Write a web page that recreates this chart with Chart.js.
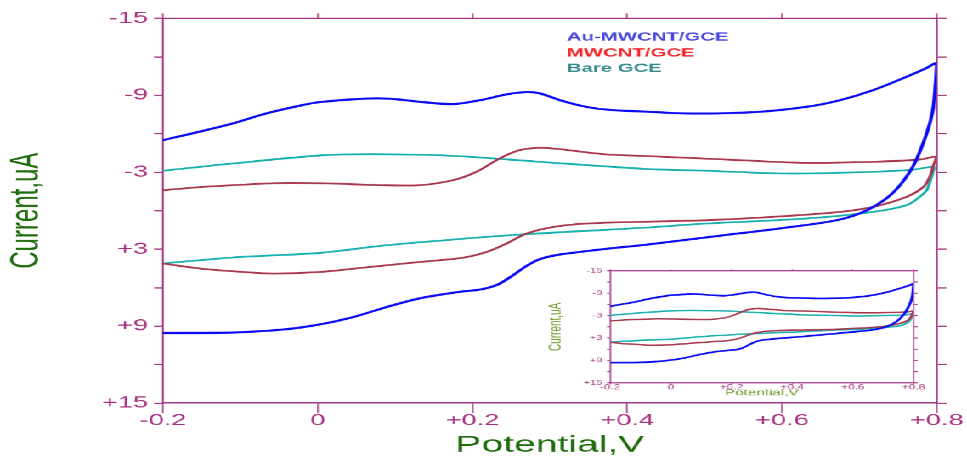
<!DOCTYPE html>
<html>
<head>
<meta charset="utf-8">
<script src="https://cdn.jsdelivr.net/npm/chart.js@4/dist/chart.umd.min.js"></script>
<style>
  html, body { margin: 0; padding: 0; background: #fff; overflow: hidden; }
  /* The drawing is laid out on a 569px-wide stage and widened to 967px,
     which gives the wide-set lettering of the instrument printout. */
  #stage { position: absolute; left: 0; top: 0; width: 569px; height: 457px;
           transform: scaleX(1.6995); transform-origin: 0 0; }
  #mainBox { position: absolute; left: 0; top: 0; width: 569px; height: 457px; }
  #insetBox { position: absolute; left: 320.7px; top: 262px; width: 226.5px; height: 138px; }
</style>
</head>
<body>
<div id="stage">
  <div id="mainBox"><canvas id="main"></canvas></div>
  <div id="insetBox"><canvas id="inset"></canvas></div>
</div>
<script>
// Cyclic voltammograms: potential (V) vs current (uA), forward and reverse scans.
const seriesNames = ['Au-MWCNT/GCE', 'MWCNT/GCE', 'Bare GCE'];

// Au-MWCNT/GCE
const auFwdE = [-0.2, -0.15, -0.11, -0.066, -0.02, 0.003, 0.058, 0.093, 0.132, 0.175, 0.21, 0.244, 0.27, 0.287, 0.313, 0.347, 0.382, 0.429, 0.472, 0.52, 0.572, 0.632, 0.675, 0.718, 0.761, 0.785, 0.8];
const auFwdI = [-5.5, -6.2, -6.8, -7.59, -8.23, -8.47, -8.73, -8.73, -8.49, -8.31, -8.62, -9.07, -9.25, -9.15, -8.62, -8.1, -7.84, -7.71, -7.59, -7.59, -7.71, -8.1, -8.62, -9.4, -10.44, -11.07, -11.49];
const auRevE = [0.798, 0.795, 0.787, 0.769, 0.743, 0.71, 0.671, 0.601, 0.52, 0.429, 0.37, 0.33, 0.305, 0.287, 0.27, 0.252, 0.233, 0.21, 0.184, 0.132, 0.089, 0.046, 0.003, -0.045, -0.11, -0.2];
const auRevI = [-9.6, -7.84, -6.02, -3.42, -1.37, -0.04, 0.74, 1.35, 1.95, 2.62, 3.0, 3.28, 3.5, 3.78, 4.3, 5.05, 5.75, 6.15, 6.32, 6.83, 7.51, 8.29, 8.86, 9.27, 9.5, 9.54];

// MWCNT/GCE
const mwFwdE = [-0.2, -0.15, -0.11, -0.04, 0.016, 0.08, 0.132, 0.175, 0.205, 0.235, 0.261, 0.287, 0.313, 0.369, 0.429, 0.546, 0.632, 0.718, 0.78, 0.799];
const mwFwdI = [-1.6, -1.85, -1.99, -2.17, -2.12, -1.99, -1.99, -2.38, -3.03, -4.07, -4.72, -4.9, -4.8, -4.41, -4.25, -3.94, -3.73, -3.81, -4.0, -4.2];
const mwRevE = [0.795, 0.791, 0.783, 0.761, 0.718, 0.675, 0.588, 0.503, 0.417, 0.348, 0.305, 0.27, 0.244, 0.218, 0.188, 0.132, 0.068, 0.003, -0.057, -0.096, -0.152, -0.2];
const mwRevI = [-3.4, -2.64, -1.86, -1.08, -0.3, 0.09, 0.48, 0.74, 0.87, 1.0, 1.26, 1.78, 2.56, 3.22, 3.66, 4.0, 4.39, 4.78, 4.9, 4.78, 4.51, 4.12];

// Bare GCE
const bareFwdE = [-0.2, -0.11, 0.003, 0.068, 0.154, 0.197, 0.244, 0.305, 0.369, 0.429, 0.503, 0.606, 0.718, 0.77, 0.796];
const bareFwdI = [-3.11, -3.68, -4.31, -4.41, -4.33, -4.2, -4.0, -3.73, -3.47, -3.24, -3.11, -2.9, -3.03, -3.2, -3.42];
const bareRevE = [0.795, 0.791, 0.787, 0.778, 0.761, 0.718, 0.632, 0.503, 0.417, 0.27, 0.175, 0.089, 0.003, -0.11, -0.2];
const bareRevI = [-3.0, -2.2, -1.6, -1.08, -0.43, 0.09, 0.61, 1.0, 1.34, 1.83, 2.25, 2.69, 3.29, 3.65, 4.12];

// Axis ticks
const potentialTicks = [-0.2, 0, 0.2, 0.4, 0.6, 0.8];
const currentTicks = [-15, -9, -3, 3, 9, 15];

// Styling
const SX = 967 / 569;                  // horizontal widening of the stage
const FONT = "'Liberation Sans', Arial, sans-serif";
const axisColor = '#a2307e';
const tickColor = '#a8307f';
const titleGreen = '#1f6b0d';
const insetTitleGreen = '#6a9a26';
const lineColors = ['#0a0af5', '#a8384e', '#19b0b0'];
const legendColors = ['#4646dc', '#f22424', '#3a8a8c'];

Chart.defaults.font.family = FONT;
Chart.defaults.animation = false;

function loop(fE, fI, rE, rI) {
  const pts = fE.map((e, i) => ({ x: e, y: fI[i] }));
  return pts.concat(rE.map((e, i) => ({ x: e, y: rI[i] })));
}
const loops = [
  loop(auFwdE, auFwdI, auRevE, auRevI),
  loop(mwFwdE, mwFwdI, mwRevE, mwRevI),
  loop(bareFwdE, bareFwdI, bareRevE, bareRevI)
];

function datasets(widths) {
  return loops.map((pts, i) => ({
    label: seriesNames[i],
    data: pts,
    showLine: true,
    borderColor: lineColors[i],
    borderWidth: widths[i],
    pointRadius: 0,
    tension: 0.3,
    fill: false
  }));
}

function fmtE(v) {
  if (Math.abs(v) < 1e-9) return '0';
  return (v > 0 ? '+' : '-') + Math.abs(v).toFixed(1);
}
function fmtI(v) {
  if (!currentTicks.includes(v)) return '';
  return v > 0 ? '+' + v : String(v);
}

// Text-only legend in the upper part of the plot
const cvLegend = {
  id: 'cvLegend',
  afterDraw(chart, args, opts) {
    const ctx = chart.ctx;
    ctx.save();
    ctx.font = 'bold ' + opts.size + 'px ' + FONT;
    ctx.textAlign = 'left';
    ctx.textBaseline = 'alphabetic';
    seriesNames.forEach((name, i) => {
      ctx.fillStyle = legendColors[i];
      ctx.fillText(name, opts.x, opts.y + i * opts.gap);
    });
    ctx.restore();
  }
};

function xAxis(pos, o) {
  return {
    type: 'linear', position: pos, min: -0.2, max: 0.8,
    afterBuildTicks: s => { s.ticks = potentialTicks.map(v => ({ value: v })); },
    ticks: { display: o.labels, autoSkip: false, maxRotation: 0,
             callback: fmtE, color: tickColor,
             font: { size: o.font, lineHeight: 1 }, padding: o.pad || 0 },
    grid: { drawOnChartArea: false, drawTicks: true, tickLength: o.tick,
            color: axisColor, tickWidth: o.tickWidth },
    border: { color: axisColor, width: o.border },
    title: o.title ? { display: true, text: o.title, color: o.titleColor,
                       font: { size: o.titleSize, lineHeight: 1 },
                       padding: { top: 0, bottom: o.titlePad } } : { display: false },
    afterFit: s => { s.height = o.size; }
  };
}
function yAxis(pos, o) {
  return {
    type: 'linear', position: pos, min: -15, max: 15, reverse: true,
    afterBuildTicks: s => { s.ticks = []; for (let v = -15; v <= 15; v += 3) s.ticks.push({ value: v }); },
    ticks: { display: o.labels, autoSkip: false, callback: fmtI, color: tickColor,
             font: { size: o.font, lineHeight: 1 }, padding: o.pad || 0 },
    grid: { drawOnChartArea: false, drawTicks: true, tickLength: o.tick,
            color: axisColor, tickWidth: o.tickWidth },
    border: { color: axisColor, width: o.border },
    title: o.title ? { display: true, text: o.title, color: o.titleColor,
                       font: { size: o.titleSize, lineHeight: 1 },
                       padding: { top: o.titlePad, bottom: 0 } } : { display: false },
    afterFit: s => { s.width = o.size; }
  };
}

new Chart(document.getElementById('main'), {
  type: 'scatter',
  data: { datasets: datasets([2.1, 1.8, 1.8]) },
  options: {
    responsive: true, maintainAspectRatio: false, devicePixelRatio: SX,
    layout: { padding: 0 },
    plugins: { legend: { display: false }, tooltip: { enabled: false },
               cvLegend: { x: 566.7 / SX, y: 40.7, gap: 15.5, size: 12 } },
    scales: {
      x: xAxis('bottom', { labels: true, font: 16, tick: 10, tickWidth: 0.8, border: 1.3,
                           title: 'Potential,V', titleColor: titleGreen, titleSize: 23, titlePad: 0.5,
                           size: 457 - 402.7 }),
      xTop: xAxis('top', { labels: false, font: 16, tick: 5, tickWidth: 0.8, border: 1.2, size: 18.3 }),
      y: yAxis('left', { labels: true, font: 16, tick: 5.3, tickWidth: 1.2, border: 1.0, pad: 3.5,
                         title: 'Current,uA', titleColor: titleGreen, titleSize: 24, titlePad: 4,
                         size: 163 / SX }),
      yRight: yAxis('right', { labels: false, font: 16, tick: 5.9, tickWidth: 1.2, border: 1.0,
                               size: (967 - 936.7) / SX })
    }
  },
  plugins: [cvLegend]
});

new Chart(document.getElementById('inset'), {
  type: 'scatter',
  data: { datasets: datasets([1.7, 1.5, 1.5]) },
  options: {
    responsive: true, maintainAspectRatio: false, devicePixelRatio: SX,
    layout: { padding: 0 },
    plugins: { legend: { display: false }, tooltip: { enabled: false } },
    scales: {
      x: xAxis('bottom', { labels: true, font: 7, tick: 1.5, tickWidth: 0.6, border: 1, pad: -0.5,
                           title: 'Potential,V', titleColor: insetTitleGreen, titleSize: 9, titlePad: 2.8,
                           size: 400 - 382.7 }),
      xTop: xAxis('top', { labels: false, font: 7, tick: 1.5, tickWidth: 0.6, border: 1, size: 270.7 - 262 }),
      y: yAxis('left', { labels: true, font: 6.5, tick: 1.8, tickWidth: 1, border: 0.8, pad: 2.8,
                         title: 'Current,uA', titleColor: insetTitleGreen, titleSize: 10, titlePad: 1,
                         size: (609.5 - 545) / SX }),
      yRight: yAxis('right', { labels: false, font: 7, tick: 2.4, tickWidth: 1, border: 0.8,
                               size: (930 - 913) / SX })
    }
  }
});
</script>
</body>
</html>
